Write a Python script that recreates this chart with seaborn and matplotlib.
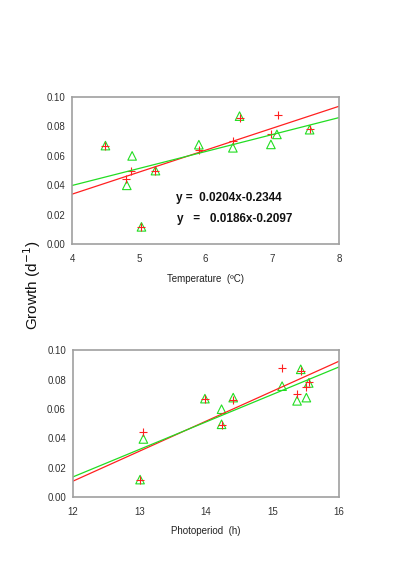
import matplotlib
matplotlib.use("Agg")
import matplotlib.pyplot as plt
import seaborn as sns
import numpy as np
import pandas as pd

# ---- data: temperature panel ----
temp_plus_x = [4.50, 4.81, 4.89, 5.03, 5.25, 5.90, 6.41, 6.51, 6.98, 7.08, 7.56]
temp_plus_y = [0.0669, 0.0442, 0.0499, 0.0116, 0.0494, 0.0640, 0.0698, 0.0860, 0.0746, 0.0875, 0.0782]
temp_tri_x = [4.50, 4.82, 4.90, 5.04, 5.25, 5.90, 6.41, 6.51, 6.98, 7.07, 7.56]
temp_tri_y = [0.0670, 0.0400, 0.0600, 0.0118, 0.0500, 0.0676, 0.0655, 0.0870, 0.0678, 0.0746, 0.0778]
temp_red_fit = [0.0340, 0.0937]     # line value at x=4 and x=8
temp_green_fit = [0.0399, 0.0860]
temp_range = [4, 8]
temp_eqs = ["y =  0.0204x-0.2344", "y   =   0.0186x-0.2097"]

# ---- data: photoperiod panel ----
photo_plus_x = [13.01, 13.05, 13.985, 14.235, 14.41, 15.145, 15.37, 15.425, 15.51, 15.545]
photo_plus_y = [0.0118, 0.0441, 0.0668, 0.0489, 0.0660, 0.0882, 0.0705, 0.0860, 0.0748, 0.0784]
photo_tri_x = [13.01, 13.06, 13.985, 14.235, 14.235, 14.41, 15.145, 15.37, 15.425, 15.51, 15.545]
photo_tri_y = [0.0118, 0.0395, 0.0670, 0.0598, 0.0495, 0.0677, 0.0755, 0.0655, 0.0870, 0.0677, 0.0777]
photo_red_fit = [0.0107, 0.0925]    # line value at x=12 and x=16
photo_green_fit = [0.0136, 0.0886]
photo_range = [12, 16]

y_ticks = [0.00, 0.02, 0.04, 0.06, 0.08, 0.10]
y_tick_labels = ["0.00", "0.02", "0.04", "0.06", "0.08", "0.10"]

sns.set_style("white")
plt.rcParams['font.family'] = ['Liberation Sans', 'DejaVu Sans']

RED = "#ff2020"
GREEN = "#22dd22"
GRAY = "#808080"

fig = plt.figure(figsize=(3.96, 5.64), dpi=100)
ax1 = fig.add_axes([0.182, 0.567, 0.674, 0.261])
ax2 = fig.add_axes([0.184, 0.119, 0.672, 0.260])


def draw_panel(ax, px, py, tx, ty, rfit, gfit, xr, xticks, xlabel):
    dp = pd.DataFrame({"x": px, "y": py})
    dt = pd.DataFrame({"x": tx, "y": ty})
    lr = pd.DataFrame({"x": xr, "y": rfit})
    lg = pd.DataFrame({"x": xr, "y": gfit})
    sns.lineplot(data=lr, x="x", y="y", ax=ax, color=RED, lw=0.9)
    sns.lineplot(data=lg, x="x", y="y", ax=ax, color=GREEN, lw=0.9)
    sns.scatterplot(data=dt, x="x", y="y", ax=ax, marker="^", s=38,
                    facecolor="none", edgecolor=GREEN, linewidth=0.8)
    sns.scatterplot(data=dp, x="x", y="y", ax=ax, marker="+", s=40,
                    color=RED, linewidth=0.8)
    ax.set_xlim(xr[0], xr[1])
    ax.set_ylim(0, 0.10)
    ax.set_xticks(xticks)
    ax.set_xticklabels([str(t) for t in xticks])
    ax.set_yticks(y_ticks)
    ax.set_yticklabels(y_tick_labels)
    ax.tick_params(axis="both", direction="out", length=3, width=0.8,
                   color=GRAY, labelsize=7, labelcolor="#333333", pad=2)
    ax.tick_params(axis="x", pad=4)
    for s in ax.spines.values():
        s.set_color("#a0a0a0")
        s.set_linewidth(1.2)
        s.set_visible(True)
    ax.set_xlabel(xlabel, fontsize=7, color="#222222", labelpad=7)
    ax.set_ylabel("")


draw_panel(ax1, temp_plus_x, temp_plus_y, temp_tri_x, temp_tri_y,
           temp_red_fit, temp_green_fit, temp_range, [4, 5, 6, 7, 8],
           "Temperature  (ºC)")
draw_panel(ax2, photo_plus_x, photo_plus_y, photo_tri_x, photo_tri_y,
           photo_red_fit, photo_green_fit, photo_range, [12, 13, 14, 15, 16],
           "Photoperiod  (h)")

ax1.text(5.56, 0.0295, temp_eqs[0], fontsize=8.5, fontweight="bold", color="#111111")
ax1.text(5.58, 0.0153, temp_eqs[1], fontsize=8.5, fontweight="bold", color="#111111")

fig.text(0.081, 0.495, "Growth (d$^{-1}$)", rotation=90, fontsize=11,
         ha="center", va="center", color="#111111")

fig.savefig("out.png", dpi=100)
